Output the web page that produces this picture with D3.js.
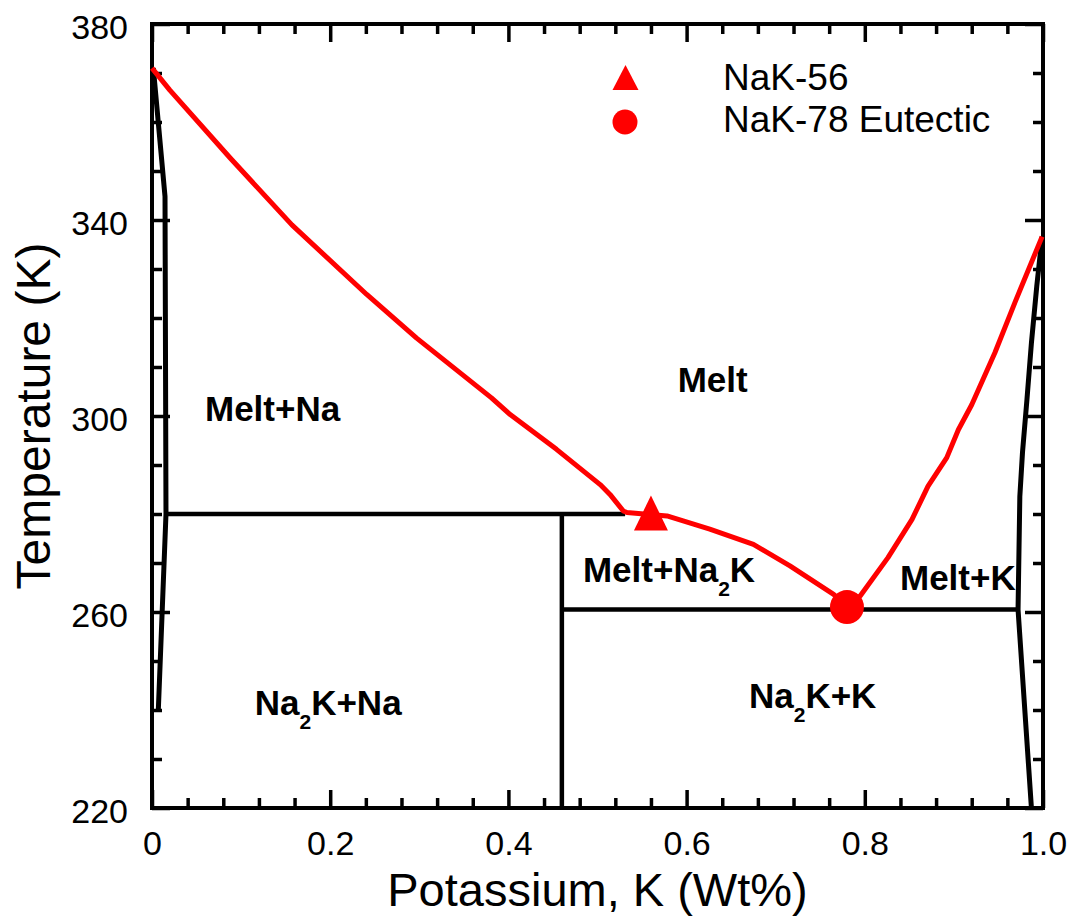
<!DOCTYPE html>
<html>
<head>
<meta charset="utf-8">
<script src="https://cdn.jsdelivr.net/npm/d3@7"></script>
<style>
  html, body { margin: 0; padding: 0; background: #fff; }
  svg { display: block; font-family: "Liberation Sans", Arial, Helvetica, sans-serif; }
</style>
</head>
<body>
<svg id="chart" width="1077" height="916"></svg>
<script>
// ---------------- data ----------------
const xMajorTicks = [0, 0.2, 0.4, 0.6, 0.8, 1.0];
const xTickLabels = ["0", "0.2", "0.4", "0.6", "0.8", "1.0"];
const yMajorTicks = [220, 260, 300, 340, 380];
const yTickLabels = ["220", "260", "300", "340", "380"];

// liquidus (red) — [K weight fraction, Temperature K]
const liquidusX = [0.000, 0.020, 0.088, 0.157, 0.241, 0.297, 0.381, 0.402, 0.454, 0.503, 0.514, 0.529, 0.533,
                   0.578, 0.626, 0.675, 0.716, 0.765, 0.780,
                   0.795, 0.826, 0.853, 0.871, 0.892, 0.905, 0.920, 0.946, 0.969, 0.999];
const liquidusT = [371.0, 366.5, 352.6, 339.0, 324.8, 315.9, 303.7, 300.3, 293.2, 286.0, 284.0, 280.6, 280.3,
                   279.6, 276.9, 273.8, 269.4, 263.6, 261.2,
                   263.3, 271.1, 278.9, 285.7, 291.5, 297.2, 302.3, 312.9, 323.4, 336.6];

// Na-side solidus (black)
const solidusNaX = [0.0015, 0.0146, 0.0157, 0.0071];
const solidusNaT = [371.0, 344.8, 280.0, 240.0];

// K-side solidus (black)
const solidusKX = [0.999, 0.993, 0.987, 0.982, 0.977, 0.974, 0.972, 0.987];
const solidusKT = [336.6, 326.5, 314.9, 303.4, 292.6, 283.6, 260.5, 220.0];

// invariant lines
const peritecticT = 280.0;          // Na2K incongruent melting
const peritecticX = [0.0157, 0.531];
const eutecticT = 260.5;
const eutecticX = [0.46, 0.972];
const compoundX = 0.46;             // Na2K
const compoundT = [280.0, 220.0];

// special points
const nak56 = [0.56, 280.1];
const nak78 = [0.78, 261.0];

const legendLabels = ["NaK-56", "NaK-78 Eutectic"];

// ---------------- layout ----------------
const svg = d3.select("#chart");
const M = { left: 152, top: 24, right: 1077 - 1043, bottom: 916 - 808 };
const W = 1043 - 152, H = 808 - 24;

const x = d3.scaleLinear().domain([0, 1]).range([M.left, M.left + W]);
const y = d3.scaleLinear().domain([220, 380]).range([M.top + H, M.top]);

const RED = "#ff0000";
const zip = (xs, ts) => xs.map((v, i) => [v, ts[i]]);
const line = d3.line().x(d => x(d[0])).y(d => y(d[1]));

// ---------------- axes ----------------
const xMinor = d3.range(0, 1.0001, 0.04).map(v => +v.toFixed(2)).filter(v => !xMajorTicks.some(m => Math.abs(m - v) < 1e-6));
const yMinor = d3.range(220, 381, 10).filter(v => !yMajorTicks.includes(v));

function styleAxis(g) {
  g.select(".domain").remove();
  g.selectAll(".tick line").attr("stroke", "#000").attr("stroke-width", 3.5);
  g.selectAll(".tick text").attr("fill", "#000").style("font-size", "34px").style("font-family", '"Liberation Sans", Arial, sans-serif');
}

// bottom
svg.append("g").attr("transform", `translate(0,${M.top + H})`)
  .call(d3.axisBottom(x).tickValues(xMajorTicks).tickSize(-18).tickPadding(23)
    .tickFormat((d, i) => xTickLabels[i]))
  .call(styleAxis)
  .call(g => g.selectAll(".tick text").attr("y", 23).attr("dy", "0.71em"));
svg.append("g").attr("transform", `translate(0,${M.top + H})`)
  .call(d3.axisBottom(x).tickValues(xMinor).tickSize(-10).tickFormat(""))
  .call(styleAxis);
// top
svg.append("g").attr("transform", `translate(0,${M.top})`)
  .call(d3.axisTop(x).tickValues(xMajorTicks).tickSize(-18).tickFormat(""))
  .call(styleAxis);
svg.append("g").attr("transform", `translate(0,${M.top})`)
  .call(d3.axisTop(x).tickValues(xMinor).tickSize(-10).tickFormat(""))
  .call(styleAxis);
// left
svg.append("g").attr("transform", `translate(${M.left},0)`)
  .call(d3.axisLeft(y).tickValues(yMajorTicks).tickSize(-18).tickPadding(24)
    .tickFormat((d, i) => yTickLabels[i]))
  .call(styleAxis)
  .call(g => g.selectAll(".tick text").attr("x", -24).attr("dy", "0.42em"));
svg.append("g").attr("transform", `translate(${M.left},0)`)
  .call(d3.axisLeft(y).tickValues(yMinor).tickSize(-10).tickFormat(""))
  .call(styleAxis);
// right
svg.append("g").attr("transform", `translate(${M.left + W},0)`)
  .call(d3.axisRight(y).tickValues(yMajorTicks).tickSize(-18).tickFormat(""))
  .call(styleAxis);
svg.append("g").attr("transform", `translate(${M.left + W},0)`)
  .call(d3.axisRight(y).tickValues(yMinor).tickSize(-10).tickFormat(""))
  .call(styleAxis);

// frame
svg.append("rect").attr("x", M.left).attr("y", M.top).attr("width", W).attr("height", H)
  .attr("fill", "none").attr("stroke", "#000").attr("stroke-width", 4);

// axis titles
svg.append("text").attr("x", M.left + W / 2).attr("y", 906)
  .attr("text-anchor", "middle").style("font-size", "47px").text("Potassium, K (Wt%)");
svg.append("text").attr("transform", `translate(50,${M.top + H / 2}) rotate(-90)`)
  .attr("text-anchor", "middle").style("font-size", "48px").text("Temperature (K)");

// ---------------- phase boundaries ----------------
const plot = svg.append("g");
plot.append("path").datum(zip(solidusNaX, solidusNaT)).attr("d", line)
  .attr("fill", "none").attr("stroke", "#000").attr("stroke-width", 5).attr("stroke-linejoin", "round");
plot.append("path").datum(zip(solidusKX, solidusKT)).attr("d", line)
  .attr("fill", "none").attr("stroke", "#000").attr("stroke-width", 5).attr("stroke-linejoin", "round");
plot.append("path").datum(peritecticX.map(v => [v, peritecticT])).attr("d", line)
  .attr("fill", "none").attr("stroke", "#000").attr("stroke-width", 4.5);
plot.append("path").datum(eutecticX.map(v => [v, eutecticT])).attr("d", line)
  .attr("fill", "none").attr("stroke", "#000").attr("stroke-width", 4.5);
plot.append("path").datum(compoundT.map(t => [compoundX, t])).attr("d", line)
  .attr("fill", "none").attr("stroke", "#000").attr("stroke-width", 4.5);

plot.append("path").datum(zip(liquidusX, liquidusT)).attr("d", line)
  .attr("fill", "none").attr("stroke", RED).attr("stroke-width", 5).attr("stroke-linejoin", "round");

// markers
function triPath(cx, cy, w, h) {
  return `M${cx},${cy - h / 2}L${cx + w / 2},${cy + h / 2}L${cx - w / 2},${cy + h / 2}Z`;
}
plot.append("path").attr("d", triPath(x(nak56[0]), y(nak56[1]) - 0.5, 34, 35)).attr("fill", RED);
plot.append("circle").attr("cx", x(nak78[0])).attr("cy", y(nak78[1])).attr("r", 17).attr("fill", RED);

// ---------------- region labels ----------------
const labels = [
  { x: 0.0595, t: 299.0, parts: [["Melt+Na", false]] },
  { x: 0.590,  t: 304.9, parts: [["Melt", false]] },
  { x: 0.4837, t: 266.2, parts: [["Melt+Na", false], ["2", true], ["K", false]] },
  { x: 0.8395, t: 264.5, parts: [["Melt+K", false]] },
  { x: 0.1153, t: 239.0, parts: [["Na", false], ["2", true], ["K+Na", false]] },
  { x: 0.670,  t: 240.4, parts: [["Na", false], ["2", true], ["K+K", false]] }
];
labels.forEach(l => {
  const t = svg.append("text").attr("x", x(l.x)).attr("y", y(l.t))
    .style("font-size", "35px").style("font-weight", "bold");
  let shifted = false;
  l.parts.forEach(([s, sub]) => {
    const ts = t.append("tspan").text(s);
    if (sub) { ts.attr("dy", 14).style("font-size", "21px"); shifted = true; }
    else if (shifted) { ts.attr("dy", -14); shifted = false; }
  });
});

// ---------------- legend ----------------
const lg = svg.append("g");
lg.append("path").attr("d", triPath(625.5, 77.5, 26, 25)).attr("fill", RED);
lg.append("circle").attr("cx", 625).attr("cy", 122).attr("r", 12.5).attr("fill", RED);
lg.append("text").attr("x", 723).attr("y", 90).style("font-size", "37px").text(legendLabels[0]);
lg.append("text").attr("x", 723).attr("y", 132).style("font-size", "37px").text(legendLabels[1]);
</script>
</body>
</html>
